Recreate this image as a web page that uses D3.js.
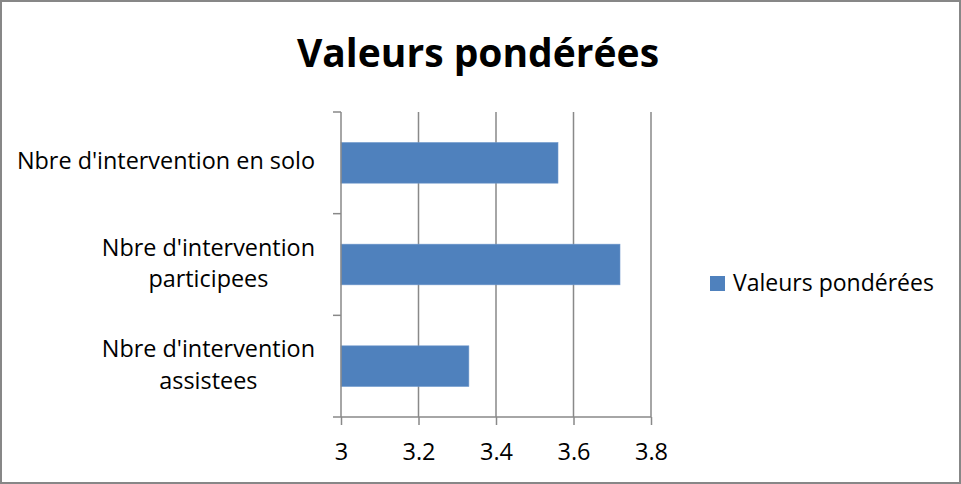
<!DOCTYPE html>
<html>
<head>
<meta charset="utf-8">
<script src="https://cdn.jsdelivr.net/npm/d3@7"></script>
<style>
  html, body { margin: 0; padding: 0; background: #fff; }
  svg { display: block; font-family: "Open Sans", sans-serif; }
</style>
</head>
<body>
<svg id="chart" width="961" height="484"></svg>
<script>
// ---- data ----
const title = "Valeurs pondérées";
const seriesName = "Valeurs pondérées";
const categories = [
  "Nbre d'intervention en solo",
  "Nbre d'intervention participees",
  "Nbre d'intervention assistees"
];
const categoryLines = [
  ["Nbre d'intervention en solo"],
  ["Nbre d'intervention", "participees"],
  ["Nbre d'intervention", "assistees"]
];
const values = [3.56, 3.72, 3.33];
const xTicks = [3, 3.2, 3.4, 3.6, 3.8];
const xDomain = [3, 3.8];

// ---- layout ----
const W = 961, H = 484;
const plot = { left: 341, right: 651, top: 112, bottom: 417 };
const barColor = "#4F81BD";
const axisColor = "#898989";
const labelSize = 23.4;

const svg = d3.select("#chart");

svg.append("rect")
  .attr("x", 1).attr("y", 1).attr("width", W - 2).attr("height", H - 2)
  .attr("fill", "#fff").attr("stroke", "#878787").attr("stroke-width", 2);

const x = d3.scaleLinear().domain(xDomain).range([plot.left, plot.right]);
const y = d3.scaleBand().domain(categories).range([plot.top, plot.bottom])
  .paddingInner(0.6).paddingOuter(0.3);

// gridlines
svg.append("g").selectAll("line")
  .data(xTicks.slice(1))
  .join("line")
  .attr("x1", d => x(d)).attr("x2", d => x(d))
  .attr("y1", plot.top).attr("y2", plot.bottom)
  .attr("stroke", axisColor).attr("stroke-width", 1.5);

// bars
svg.append("g").selectAll("rect")
  .data(categories)
  .join("rect")
  .attr("x", x(xDomain[0]))
  .attr("y", d => y(d))
  .attr("width", (d, i) => x(values[i]) - x(xDomain[0]))
  .attr("height", y.bandwidth())
  .attr("fill", barColor)
  .attr("stroke", "#6f98cc").attr("stroke-width", 0.6);

// x axis
const xAxis = d3.axisBottom(x).tickValues(xTicks).tickSize(8).tickPadding(18)
  .tickFormat(d3.format("~g"));
const gx = svg.append("g").attr("transform", `translate(0,${plot.bottom})`).call(xAxis);
gx.select(".domain").remove();
gx.append("line").attr("x1", plot.left - 8).attr("x2", plot.right)
  .attr("y1", 0).attr("y2", 0).attr("stroke", axisColor).attr("stroke-width", 1.5);
gx.selectAll(".tick line").attr("stroke", axisColor).attr("stroke-width", 1.5);
gx.selectAll(".tick text")
  .attr("fill", "#000").style("font-size", "23.5px")
  .style("font-family", "'Open Sans', sans-serif");

// y axis line and ticks at category boundaries
const step = y.step();
const bounds = d3.range(categories.length + 1).map(i => plot.top + i * step);
svg.append("line")
  .attr("x1", plot.left).attr("x2", plot.left)
  .attr("y1", plot.top).attr("y2", plot.bottom)
  .attr("stroke", axisColor).attr("stroke-width", 1.5);
svg.append("g").selectAll("line")
  .data(bounds.slice(0, -1))
  .join("line")
  .attr("x1", plot.left - 8).attr("x2", plot.left)
  .attr("y1", d => d).attr("y2", d => d)
  .attr("stroke", axisColor).attr("stroke-width", 1.5);

// category labels
const labelRight = 315;
const lineGap = 31.5;
categories.forEach((c, i) => {
  const lines = categoryLines[i];
  const center = y(c) + y.bandwidth() / 2;
  const t = svg.append("text")
    .attr("text-anchor", "middle")
    .style("font-size", labelSize + "px").attr("fill", "#000");
  const n = lines.length;
  const base0 = center + 6.5 - (n - 1) * 15.2;
  const spans = lines.map((ln, k) => t.append("tspan")
    .attr("y", base0 + k * lineGap).text(ln));
  const maxW = d3.max(spans, s => s.node().getComputedTextLength());
  spans.forEach(s => s.attr("x", labelRight - maxW / 2));
});

// title
svg.append("text")
  .attr("x", 478).attr("y", 67)
  .attr("text-anchor", "middle")
  .style("font-size", "39px").style("font-weight", "bold")
  .attr("fill", "#000")
  .text(title);

// legend
const lg = svg.append("g");
lg.append("rect").attr("x", 710).attr("y", 276).attr("width", 15).attr("height", 15)
  .attr("fill", barColor);
lg.append("text").attr("x", 733).attr("y", 291)
  .style("font-size", "23px").attr("fill", "#000")
  .text(seriesName);
</script>
</body>
</html>
